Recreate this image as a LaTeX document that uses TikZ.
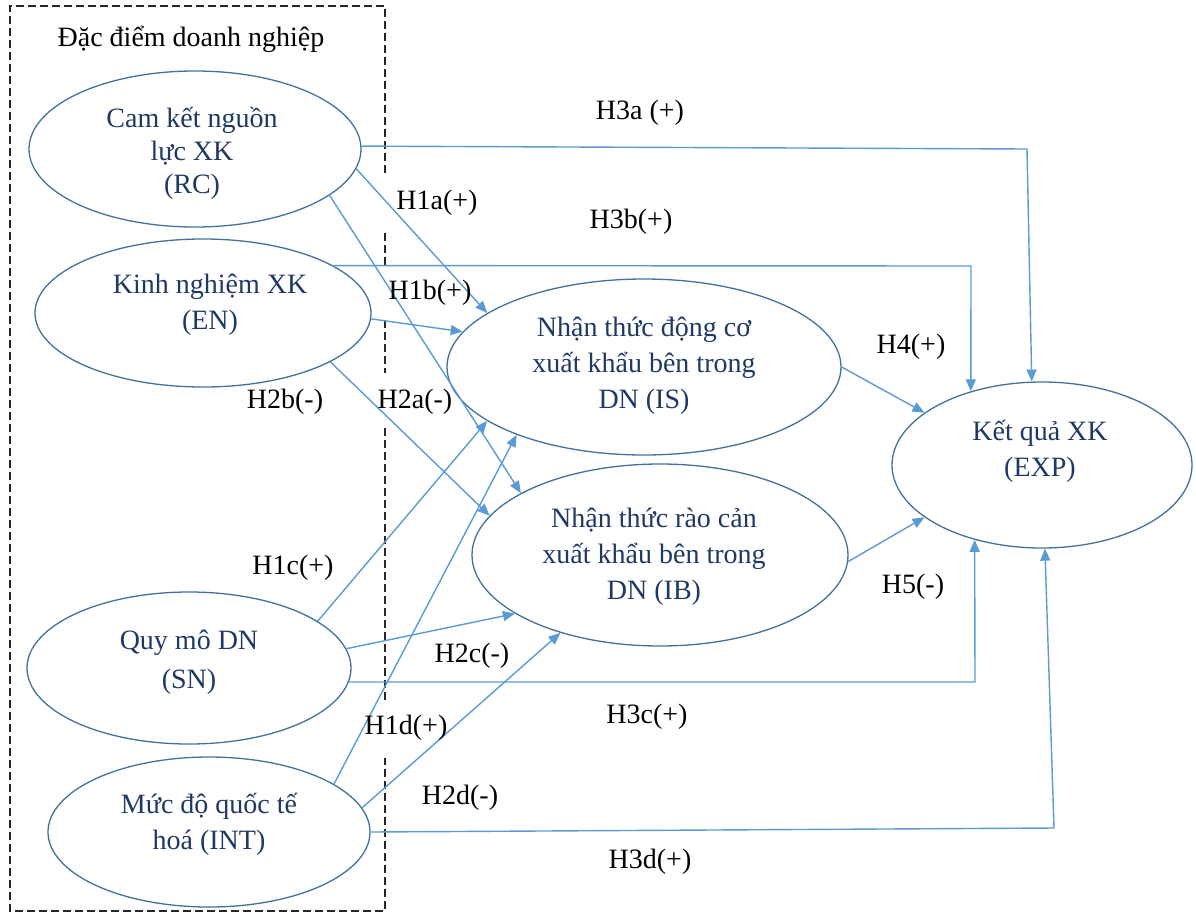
\documentclass[tikz,border=0pt]{standalone}
\usepackage{fontspec}
\setmainfont{Liberation Serif}
\usetikzlibrary{shapes.geometric,arrows.meta}
\definecolor{cblue}{HTML}{5B9BD5}
\definecolor{eline}{HTML}{41719C}
\definecolor{navy}{HTML}{1F3864}
\begin{document}
\begin{tikzpicture}[x=1pt,y=-1pt,
  font=\fontsize{28}{36}\selectfont,
  ellnode/.style={draw=eline, line width=1.3pt, ellipse, inner sep=0pt},
  etext/.style={text=navy, align=center, inner sep=0pt},
  lbl/.style={text=black, inner sep=1pt},
  arr/.style={draw=cblue, line width=1.4pt, -{Triangle[length=12pt,width=10pt]}},
  boxdash/.style={draw=black!85, line width=1.2pt, dash pattern=on 8pt off 4pt}]
\useasboundingbox (0,0) rectangle (1196,913);

% dashed frame
\draw[boxdash] (385,173) -- (385,6) -- (10,6) -- (10,911) -- (385,911) -- (385,758);
\draw[boxdash] (385,233) -- (385,267);
\draw[boxdash] (385,320) -- (385,373);
\draw[boxdash] (385,428) -- (385,702);
\node[lbl] (title) at (191,39) {Đặc điểm doanh nghiệp};

% ellipses
\node[ellnode, minimum width=332pt, minimum height=156pt] (RC) at (195,149) {};
\node[ellnode, minimum width=336pt, minimum height=148pt] (EN) at (203,313) {};
\node[ellnode, minimum width=394pt, minimum height=176pt] (IS) at (644,367) {};
\node[ellnode, minimum width=376pt, minimum height=182pt] (IB) at (660,555) {};
\node[ellnode, minimum width=300pt, minimum height=166pt] (EXP) at (1042,465) {};
\node[ellnode, minimum width=324pt, minimum height=152pt] (SN) at (189,668) {};
\node[ellnode, minimum width=322pt, minimum height=150pt] (INT) at (209,832) {};

% ellipse texts
\node[etext, font=\fontsize{28}{33}\selectfont] (RCt) at (192,153) {Cam kết nguồn\\lực XK\\(RC)};
\node[etext] (ENt) at (210,305) {Kinh nghiệm XK\\(EN)};
\node[etext] (ISt) at (644,366) {Nhận thức động cơ\\xuất khẩu bên trong\\DN (IS)};
\node[etext] (IBt) at (654,557) {Nhận thức rào cản\\xuất khẩu bên trong\\DN (IB)};
\node[etext] (EXPt) at (1040,451) {Kết quả XK\\(EXP)};
\node[etext, font=\fontsize{28}{39}\selectfont] (SNt) at (189,662) {Quy mô DN\\(SN)};
\node[etext] (INTt) at (209,824) {Mức độ quốc tế\\hoá (INT)};

% corner coordinates
\coordinate (c3a) at (1027,149);
\coordinate (c3b) at (971,266);
\coordinate (c3c) at (975,682);
\coordinate (c3d) at (1054,828);

% connectors
\draw[arr] (RC.1) -- (c3a) -- (EXP.97);
\draw[arr] (EN.20) -- (c3b) -- (EXP.134);
\draw[arr] (SN.-5) -- (c3c) -- (EXP.228);
\draw[arr] (INT.0) -- (c3d) -- (EXP.272);
\draw[arr] (RC.-7) -- (IS.161);
\draw[arr] (RC.-19) -- (IB.156);
\draw[arr] (EN.-2) -- (IS.169);
\draw[arr] (EN.-21) -- (IB.167);
\draw[arr] (SN.20) -- (IS.199);
\draw[arr] (INT.21) -- (IS.208);
\draw[arr] (SN.7) -- (IB.202);
\draw[arr] (INT.9) -- (IB.218);
\draw[arr] (IS.0) -- (EXP.156);
\draw[arr] (IB.-2) -- (EXP.204);

% labels
\node[lbl] (h3a) at (640,113) {H3a (+)};
\node[lbl] (h3b) at (631,222) {H3b(+)};
\node[lbl] (h1a) at (437,203) {H1a(+)};
\node[lbl] (h1b) at (430,293) {H1b(+)};
\node[lbl] (h2a) at (415,402) {H2a(-)};
\node[lbl] (h2b) at (285,402) {H2b(-)};
\node[lbl] (h4) at (911,347) {H4(+)};
\node[lbl] (h1c) at (293,568) {H1c(+)};
\node[lbl] (h2c) at (472,656) {H2c(-)};
\node[lbl] (h3c) at (647,717) {H3c(+)};
\node[lbl] (h1d) at (406,728) {H1d(+)};
\node[lbl] (h2d) at (460,798) {H2d(-)};
\node[lbl] (h5) at (913,587) {H5(-)};
\node[lbl] (h3d) at (650,862) {H3d(+)};
\end{tikzpicture}
\end{document}
